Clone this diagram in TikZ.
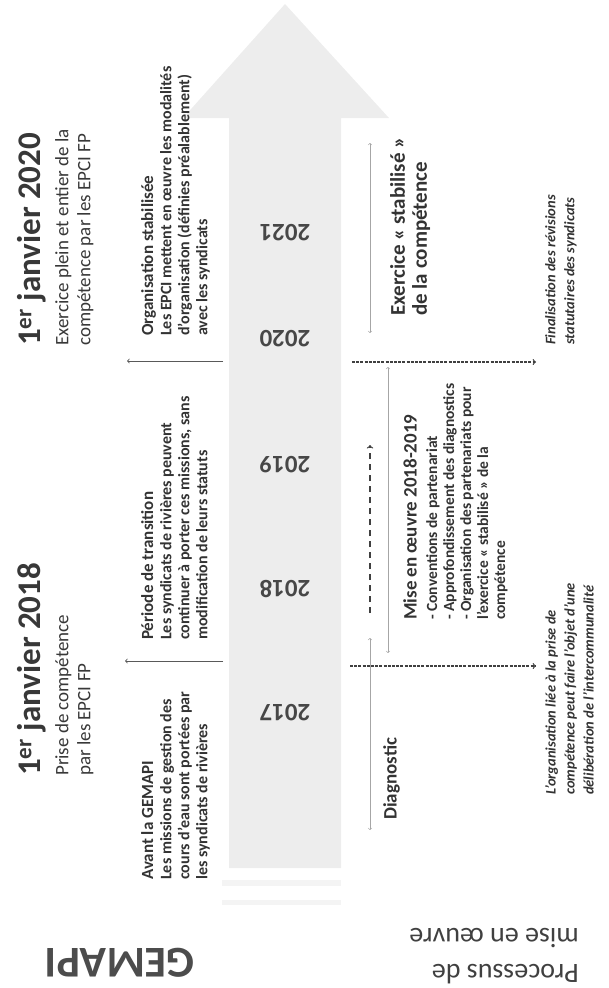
\documentclass[tikz,border=0pt]{standalone}
\usepackage{fontspec}
\setmainfont{Carlito}
\usetikzlibrary{positioning}

\begin{document}
\begin{tikzpicture} [x=1pt, y=-1pt,
  year/.style={rotate=180, font=\fontsize{25}{27}\selectfont\bfseries, text=black!72},
  date/.style={rotate=90, anchor=north west, inner sep=0pt, font=\fontsize{33}{36}\selectfont\bfseries, text=black!78},
  datesub/.style={rotate=90, anchor=north west, inner sep=0pt, align=left, font=\fontsize{19}{22}\selectfont, text=black!78},
  phase/.style={rotate=90, anchor=north west, inner sep=0pt, font=\fontsize{17}{20}\selectfont\bfseries, text=black!80},
  phasetext/.style={rotate=90, anchor=north west, inner sep=0pt, align=left, font=\fontsize{16}{18}\selectfont\bfseries, text=black!80},
  stage/.style={rotate=90, anchor=north west, inner sep=0pt, align=left, font=\fontsize{19}{21}\selectfont\bfseries, text=black!80},
  note/.style={rotate=90, anchor=north west, inner sep=0pt, align=left, font=\fontsize{14.5}{19}\selectfont\bfseries\itshape, text=black!80},
  link/.style={->, thick, black!65},
  period/.style={<->, gray!70, semithick},
  hint/.style={->, line width=1.2pt, black!75, dash pattern=on 3pt off 1.2pt}]
  \useasboundingbox (0,0) rectangle (608,988);
  %% Time arrow
  \fill [gray!14] (229,868) -- (229,118) -- (183,118) -- (285,4) -- (389,118) -- (341,118) -- (341,868) -- cycle;
  \fill [gray!9] (222,880) rectangle (341,886);
  \fill [gray!9] (222,900) rectangle (341,905);
  \node [year] (y2021) at (285,233) {2021};
  \node [year, below=129pt of y2021, on grid] (y2020) {2020};
  \node [year, below=150pt of y2020, on grid] (y2019) {2019};
  \node [year, below=148pt of y2019, on grid] (y2018) {2018};
  \node [year, below=148pt of y2018, on grid] (y2017) {2017};
  %% Legal dates
  \node [date] (t2020) at (17,346) {1\textsuperscript{er} janvier 2020};
  \node [datesub] (s2020) at (55,346) {Exercice plein et entier de la\\compétence par les EPCI FP};
  \node [date] (t2018) at (17,776) {1\textsuperscript{er} janvier 2018};
  \node [datesub] (s2018) at (55,776) {Prise de compétence\\par les EPCI FP};
  %% Phases
  \node [phase] (p2020) at (141,336) {Organisation stabilisée};
  \node [phasetext] (q2020) at (160,336) {Les EPCI mettent en œuvre les modalités\\d'organisation (définies préalablement)\\avec les syndicats};
  \node [phase] (p2018) at (141,640) {Période de transition};
  \node [phasetext] (q2018) at (160,640) {Les syndicats de rivières peuvent\\continuer à porter ces missions, sans\\modification de leurs statuts};
  \node [phase] (p2017) at (141,880) {Avant la GEMAPI};
  \node [phasetext] (q2017) at (160,880) {Les missions de gestion des\\cours d'eau sont portées par\\les syndicats de rivières};
  %% Process
  \node [stage, font=\fontsize{21}{22}\selectfont\bfseries] (r2021) at (390,316) {Exercice «~stabilisé~»\\de la compétence};
  \node [stage] (r2019) at (403,620) {Mise en œuvre 2018-2019};
  \node [phasetext, font=\fontsize{15.5}{17}\selectfont\bfseries] (b2019) at (426,620) {- Conventions de partenariat\\- Approfondissement des diagnostics\\- Organisation des partenariats pour\\l'exercice «~stabilisé~» de la\\compétence};
  \node [stage] (r2017) at (383,820) {Diagnostic};
  \node [note] (n2020) at (545,345) {Finalisation des révisions\\statutaires des syndicats};
  \node [note] (n2018) at (545,795) {L'organisation liée à la prise de\\compétence peut faire l'objet d'une\\délibération de l'intercommunalité};
  %% Titles
  \node [rotate=180, font=\fontsize{44}{48}\selectfont\bfseries, text=black!70] (gemapi) at (120,963) {GEMAPI};
  \node [rotate=180, anchor=north west, inner sep=0pt, align=left, font=\fontsize{28}{36}\selectfont, text=black!75] (process) at (579,984) {Processus de\\mise en œuvre};
  % Draw edges
  \coordinate (l2020) at (223,361); \coordinate (d2020) at (127,361);
  \coordinate (l2018) at (223,661); \coordinate (d2018) at (125,661);
  \draw [link] (l2020) -- (d2020);
  \draw [link] (l2018) -- (d2018);
  \coordinate (x2020) at (352,362); \coordinate (f2020) at (536,362);
  \coordinate (x2018) at (350,666); \coordinate (f2018) at (536,666);
  \draw [hint] (x2020) -- (f2020);
  \draw [hint] (x2018) -- (f2018);
  \coordinate (e1) at (370,333); \coordinate (e2) at (370,143);
  \coordinate (m1) at (388,653); \coordinate (m2) at (388,367);
  \coordinate (g1) at (370,830); \coordinate (g2) at (370,638);
  \draw [period] (e1) -- (e2);
  \draw [period] (m1) -- (m2);
  \draw [period] (g1) -- (g2);
  \coordinate (v1) at (370,613); \coordinate (v2) at (370,445);
  \draw [->, line width=1.3pt, black!75, dash pattern=on 6pt off 5pt] (v1) -- (v2);
\end{tikzpicture}
\end{document}
